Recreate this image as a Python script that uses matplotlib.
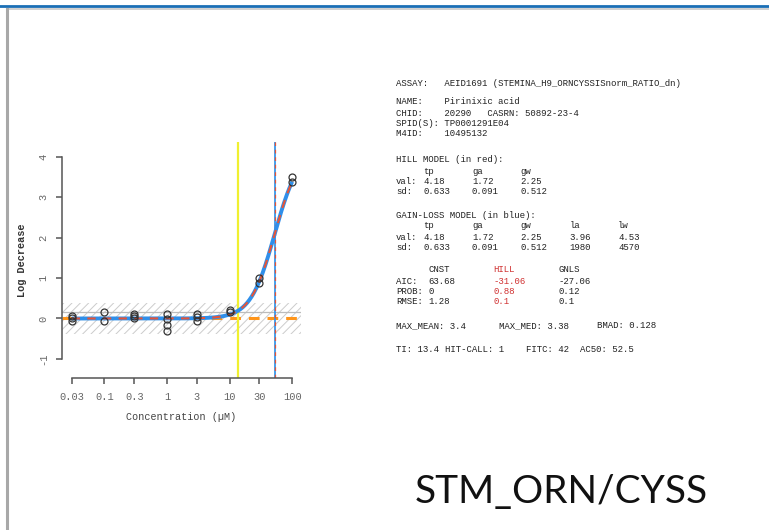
import numpy as np
import matplotlib
matplotlib.use('Agg')
import matplotlib.pyplot as plt
from matplotlib.lines import Line2D

# concentration-response data (uM, log decrease)
conc = [0.03, 0.03, 0.03, 0.1, 0.1, 0.3, 0.3, 0.3, 1, 1, 1, 1,
        3, 3, 3, 10, 10, 30, 30, 100, 100]
resp = [0.05, 0.0, -0.07, 0.15, -0.05, 0.10, 0.05, 0.0, 0.11, -0.01, -0.17, -0.30,
        0.10, 0.03, -0.05, 0.22, 0.15, 1.01, 0.87, 3.50, 3.38]
xticks = [0.03, 0.1, 0.3, 1, 3, 10, 30, 100]
xticklabels = ['0.03', '0.1', '0.3', '1', '3', '10', '30', '100']
yticks = [-1, 0, 1, 2, 3, 4]

# model parameters
hill_tp, hill_ga, hill_gw = 4.18, 1.72, 2.25
gnls_la, gnls_lw = 3.96, 4.53
bmad = 0.128
ti = 13.4
ac50 = 52.5
cutline = 0.16

W, H = 769, 530
plt.rcParams['hatch.linewidth'] = 0.7
fig = plt.figure(figsize=(W / 100, H / 100), dpi=100)


def px(x, y):
    return x / W, 1 - y / H


# slide frame
fig.add_artist(Line2D([0, 1], [1 - 6 / H] * 2, color='#1b6fb5', lw=2.0))
fig.add_artist(Line2D([px(8, 0)[0], 1], [1 - 8.5 / H] * 2, color='#c8c8c8', lw=1.2))
fig.add_artist(Line2D([px(7, 0)[0]] * 2, [0, 1 - 9 / H], color='#a8a8a8', lw=2.2))

ax = fig.add_axes([62 / W, 1 - 378 / H, (301 - 62) / W, (378 - 142) / H])
ax.set_xscale('log')
ax.set_xlim(10 ** -1.678, 10 ** 2.141)
ax.set_ylim(-1.473, 4.369)

# baseline noise band (3*BMAD)
ax.axhspan(-3 * bmad, 3 * bmad, hatch='////', facecolor='none',
           edgecolor='#cccccc', lw=0, zorder=1)
ax.axhline(cutline, color='#bcbcbc', lw=0.9, zorder=1)

# constant model
ax.axhline(0, color='#ff951a', lw=2.2, ls=(0, (3.5, 2.6)), zorder=2)

xs = np.linspace(np.log10(xticks[0]), np.log10(xticks[-1]), 300)
hill = hill_tp / (1 + 10 ** ((hill_ga - xs) * hill_gw))
gnls = hill / (1 + 10 ** ((xs - gnls_la) * gnls_lw))
ax.plot(10 ** xs, gnls, color='#2f8fea', lw=2.8, zorder=3, solid_capstyle='butt')
ax.plot(10 ** xs, hill, color='#e4553a', lw=1.5, ls=(0, (4, 3.5)), zorder=4)

ax.axvline(ti, color='#f0f030', lw=1.6, zorder=2)
ax.axvline(ac50, color='#3a96e8', lw=1.3, zorder=2)
ax.axvline(ac50, color='#e4553a', lw=0.9, ls=(0, (3, 3)), zorder=2)

ax.plot(conc, resp, 'o', mfc='none', mec='#333333', mew=0.9, ms=5, zorder=5)

for s in ['top', 'right']:
    ax.spines[s].set_visible(False)
for s in ['left', 'bottom']:
    ax.spines[s].set_color('#555555')
    ax.spines[s].set_linewidth(1.1)
ax.spines['left'].set_bounds(yticks[0], yticks[-1])
ax.spines['bottom'].set_bounds(xticks[0], xticks[-1])

mono = 'Liberation Mono'
ax.set_xticks(xticks)
ax.set_xticklabels(xticklabels)
ax.minorticks_off()
ax.set_yticks(yticks)
ax.set_yticklabels([str(v) for v in yticks], rotation=90, va='center')
ax.tick_params(direction='out', length=4, width=1.1, color='#555555',
               labelcolor='#666666', labelsize=7.5, pad=6)
for lab in ax.get_xticklabels() + ax.get_yticklabels():
    lab.set_family(mono)

ax.set_xlabel('Concentration (µM)', family=mono, fontsize=7.3, color='#444444',
              labelpad=7)
ax.set_ylabel('Log Decrease', family=mono, fontsize=7.4, fontweight='bold',
              color='#333333', labelpad=8)

# summary block
x0, cw = 396, 5.42
red = '#d03030'


def row(y, pieces):
    for col, s, *c in pieces:
        fig.text(*px(x0 + col * cw, y), s, color=c[0] if c else '#222222',
                 family=mono, fontsize=6.5, va='center')


row(84, [(0, 'ASSAY:   AEID1691 (STEMINA_H9_ORNCYSSISnorm_RATIO_dn)')])
row(102, [(0, 'NAME:    Pirinixic acid')])
row(113, [(0, 'CHID:    20290   CASRN: 50892-23-4')])
row(124, [(0, 'SPID(S): TP0001291E04')])
row(134, [(0, 'M4ID:    10495132')])

row(160, [(0, 'HILL MODEL (in red):')])
row(171, [(5, 'tp'), (14, 'ga'), (23, 'gw')])
row(181, [(0, 'val:'), (5, f'{hill_tp}'), (14, f'{hill_ga}'), (23, f'{hill_gw}')])
row(192, [(0, 'sd:'), (5, '0.633'), (14, '0.091'), (23, '0.512')])

row(215, [(0, 'GAIN-LOSS MODEL (in blue):')])
row(226, [(5, 'tp'), (14, 'ga'), (23, 'gw'), (32, 'la'), (41, 'lw')])
row(237, [(0, 'val:'), (5, f'{hill_tp}'), (14, f'{hill_ga}'), (23, f'{hill_gw}'),
          (32, f'{gnls_la}'), (41, f'{gnls_lw}')])
row(247, [(0, 'sd:'), (5, '0.633'), (14, '0.091'), (23, '0.512'), (32, '1980'),
          (41, '4570')])

row(270, [(6, 'CNST'), (18, 'HILL', red), (30, 'GNLS')])
row(281, [(0, 'AIC:'), (6, '63.68'), (18, '-31.06', red), (30, '-27.06')])
row(292, [(0, 'PROB:'), (6, '0'), (18, '0.88', red), (30, '0.12')])
row(302, [(0, 'RMSE:'), (6, '1.28'), (18, '0.1', red), (30, '0.1')])

row(326, [(0, 'MAX_MEAN: 3.4'), (19, 'MAX_MED: 3.38'), (37, f'BMAD: {bmad}')])
row(350, [(0, f'TI: {ti}'), (9, 'HIT-CALL: 1'), (24, 'FITC: 42'), (34, f'AC50: {ac50}')])

fig.text(*px(415, 503), 'STM_ORN/CYSS', family='Lato', fontsize=28,
         va='baseline', ha='left', color='#111111')

fig.savefig('out.png', dpi=100)
